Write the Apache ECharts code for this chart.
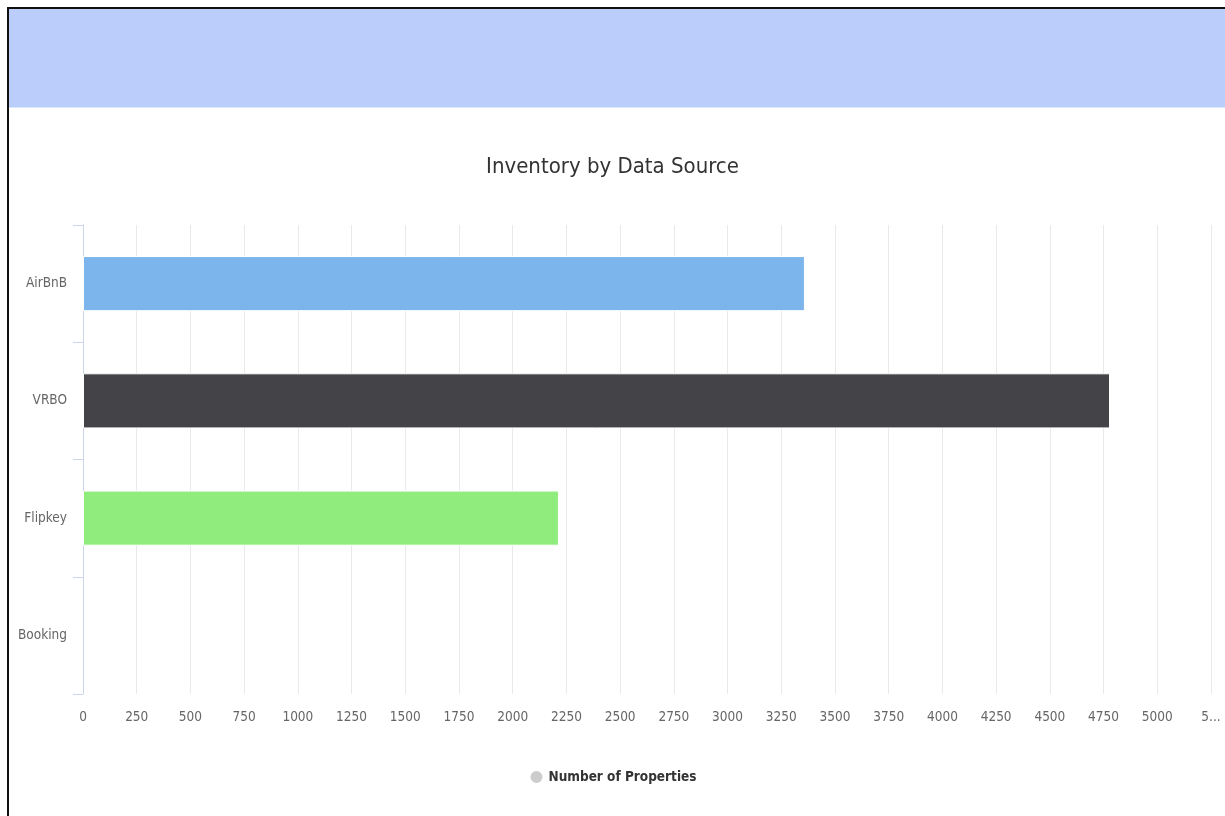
<!DOCTYPE html>
<html>
<head>
<meta charset="utf-8">
<script src="https://cdn.jsdelivr.net/npm/echarts@6/dist/echarts.min.js"></script>
<style>
  html, body { margin: 0; padding: 0; width: 1225px; height: 816px; overflow: hidden; background: #fff; }
  #frame { position: absolute; left: 7px; top: 7px; width: 1300px; height: 900px; border: 2px solid #111; box-sizing: border-box; }
  #header { position: absolute; left: 0; top: 0; right: 0; height: 98px; background: #bbcdfb; border-bottom: 1px solid #dbe5fc; }
  #chart { position: absolute; left: 0; top: 0; width: 1225px; height: 816px; }
</style>
</head>
<body>
<div id="frame"><div id="header"></div></div>
<div id="chart"></div>
<script>
const titleText = 'Inventory by Data Source';
const seriesName = 'Number of Properties';
const categories = ['AirBnB', 'VRBO', 'Flipkey', 'Booking'];
const values = [3360, 4780, 2215, 0];
const barColors = ['#7cb5ec', '#434348', '#90ed7d', '#f7a35c'];
const axisMin = 0;
const axisMax = 5250;
const axisInterval = 250;

const font = '"Liberation Sans Narrow", "DejaVu Sans Condensed", "Liberation Sans", sans-serif';
const chart = echarts.init(document.getElementById('chart'), null, { renderer: 'canvas' });

chart.setOption({
  backgroundColor: 'transparent',
  animation: false,
  title: {
    text: titleText,
    left: 'center',
    top: 151,
    textStyle: { fontFamily: font, fontSize: 22, fontWeight: 'normal', color: '#333333' }
  },
  legend: {
    data: [{ name: seriesName, itemStyle: { color: '#cccccc' } }],
    left: 'center',
    top: 764,
    icon: 'circle',
    itemWidth: 14,
    itemHeight: 14,
    itemGap: 8,
    textStyle: { fontFamily: font, fontSize: 13.5, fontWeight: 'bold', color: '#333333' }
  },
  grid: { left: 83, right: 14, top: 225, bottom: 122, containLabel: false },
  xAxis: {
    type: 'value',
    min: axisMin,
    max: axisMax,
    interval: axisInterval,
    axisLine: { show: false },
    axisTick: { show: false },
    splitLine: { show: true, lineStyle: { color: '#e9e9e9', width: 1 } },
    axisLabel: {
      margin: 16,
      fontFamily: font,
      fontSize: 13.5,
      color: '#666666',
      formatter: function (v) { return v === axisMax ? '5...' : String(v); }
    }
  },
  yAxis: {
    type: 'category',
    data: categories,
    inverse: true,
    axisLine: { show: true, lineStyle: { color: '#ccd6eb', width: 1 } },
    axisTick: { show: true, length: 10, lineStyle: { color: '#ccd6eb' } },
    splitLine: { show: false },
    axisLabel: { margin: 16, fontFamily: font, fontSize: 13.5, color: '#666666' }
  },
  series: [{
    name: seriesName,
    type: 'bar',
    barWidth: '47%',
    data: values.map((v, i) => ({
      value: v,
      itemStyle: { color: barColors[i], borderWidth: v > 0 ? 1 : 0 }
    })),
    itemStyle: { borderColor: '#ffffff', borderWidth: 1 }
  }]
});
</script>
</body>
</html>
